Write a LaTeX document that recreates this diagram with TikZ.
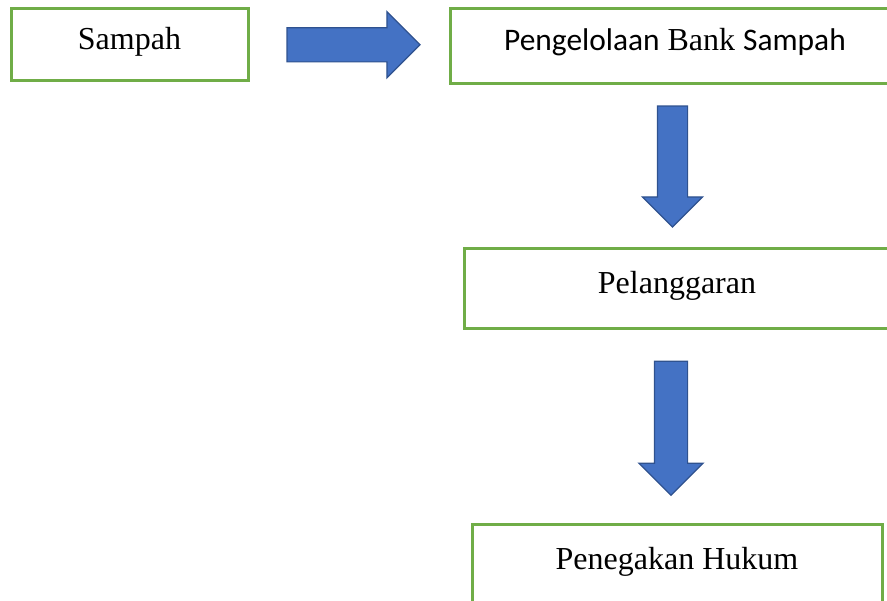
\documentclass[tikz,border=0pt]{standalone}
\usepackage{fontspec}
\setmainfont{Liberation Serif}
\newfontfamily\calibrifont{Carlito}
\usetikzlibrary{
  shapes.arrows,
  positioning,
  calc
}
\definecolor{bsGreen}{HTML}{70AD47}
\definecolor{bsBlue}{HTML}{4472C4}
\definecolor{bsBlueEdge}{HTML}{2F528F}
\tikzset{
  stagebox/.style={
    draw=bsGreen, line width=1.5pt, fill=white, inner sep=0pt,
    font=\fontsize{16}{19}\selectfont, text height=11pt, text depth=6pt
  },
  blockarrow/.style={
    single arrow, draw=bsBlueEdge, fill=bsBlue, line width=0.6pt, inner xsep=0pt
  }
}

\begin{document}
\begin{tikzpicture}[x=0.5pt, y=-0.5pt]
  \useasboundingbox (0,0) rectangle (887,600);
  \clip (0,0) rectangle (887,600);
  % stages
  \node[stagebox, minimum width=118.5pt, minimum height=36pt] (sampah) at (129.5,44) {Sampah};
  \node[stagebox, minimum width=225pt, minimum height=37.5pt] (bank) at (675,45.5) {{\calibrifont\fontsize{15.7}{19}\selectfont Pengelolaan} Bank {\calibrifont\fontsize{15.7}{19}\selectfont Sampah}};
  \node[stagebox, minimum width=213pt, minimum height=40pt] (langgar) at (677,288) {Pelanggaran};
  \node[stagebox, minimum width=205pt, minimum height=40pt] (tegak) at (677,564) {Penegakan Hukum};
  % block arrows
  \node[blockarrow, minimum height=66.5pt, inner ysep=8.25pt, single arrow head extend=8pt] (toBank) at ($(sampah.east)!0.5!(bank.west)+(-4,0)$) {};
  \node[blockarrow, rotate=-90, minimum height=60.5pt, inner ysep=7.25pt, single arrow head extend=7.5pt] (toLanggar) at ($(bank.south)!0.5!(langgar.north)+(-3.5,-6.5)$) {};
  \node[blockarrow, rotate=-90, minimum height=67pt, inner ysep=8pt, single arrow head extend=7.75pt] (toTegak) at ($(langgar.south)!0.5!(tegak.north)+(-6,-6)$) {};
\end{tikzpicture}
\end{document}
